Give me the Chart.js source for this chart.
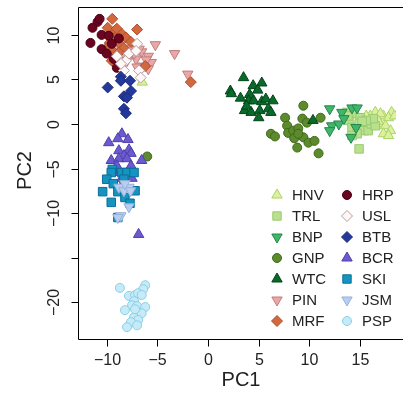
<!DOCTYPE html>
<html>
<head>
<meta charset="utf-8">
<script src="https://cdn.jsdelivr.net/npm/chart.js@4.4.0/dist/chart.umd.min.js"></script>
<style>
  html, body { margin: 0; padding: 0; background: #fff; }
</style>
</head>
<body>
<canvas id="pcaChart" width="403" height="402"></canvas>
<script>
// Axis ticks
const xTicks = [-10, -5, 0, 5, 10, 15];
const yTicks = [-20, -15, -10, -5, 0, 5, 10];
const yTickLabels = ['\u221220', '', '\u221210', '\u22125', '0', '5', '10'];

// Groups (legend order, left column then right column)
const groupNames = ['HNV', 'TRL', 'BNP', 'GNP', 'WTC', 'PIN', 'MRF',
                    'HRP', 'USL', 'BTB', 'BCR', 'SKI', 'JSM', 'PSP'];

// PC scores
const HNV_PC1 = [16.5, 17.3, 18.1, 17.8, 17.0, 17.5, 18.0, 17.3, 17.8, 16.1, 18.4, 17.0, 16.0, 16.8, 15.6, -6.5];
const HNV_PC2 = [1.3, 0.9, 1.3, 0.7, 0.0, -0.2, -0.75, -1.1, -1.3, 0.4, 0.9, 1.15, 0.9, 0.3, 0.9, 4.7];

const TRL_PC1 = [13.7, 14.4, 15.0, 13.9, 14.2, 14.9, 15.4, 15.8, 16.1, 16.5, 14.7, 14.2, 16.3, 15.6, 14.9, 13.8, 15.2];
const TRL_PC2 = [1.3, 1.15, 0.7, 0.4, -0.4, 0.0, -0.75, -0.75, 0.0, -0.2, -1.1, -1.3, 0.6, 0.4, -2.8, 0.9, 0.3];

const BNP_PC1 = [12.0, 13.2, 14.2, 12.2, 12.9, 12.0, 14.6, 14.1, 14.7, 13.4];
const BNP_PC2 = [1.7, 1.3, 1.8, -0.2, 0.0, -0.75, -0.4, -1.5, 1.8, 0.6];

const GNP_PC1 = [9.4, 7.6, 7.8, 6.2, 6.6, 7.9, 8.4, 8.9, 9.3, 9.75, 11.1, 8.5, 9.4, 9.9, 10.5, 8.8, 10.9, 8.9, -6.0];
const GNP_PC2 = [2.05, 0.7, -0.2, -1.1, -1.4, -1.0, -0.75, -0.5, 0.6, 0.15, 0.7, -1.6, -1.5, -2.1, -1.9, -2.65, -3.3, -1.1, -3.65];

const WTC_PC1 = [3.5, 2.2, 2.3, 4.45, 5.3, 4.9, 4.1, 4.0, 4.5, 5.3, 5.7, 6.4, 3.6, 4.25, 5.1, 5.95, 6.2, 5.0, 10.35, 3.2, 3.8];
const WTC_PC2 = [5.2, 3.7, 3.4, 4.3, 4.6, 3.8, 3.3, 2.6, 2.6, 2.5, 2.8, 2.6, 1.5, 1.3, 1.5, 1.7, 1.3, 0.7, 0.4, 2.9, 2.0];

const PIN_PC1 = [-5.2, -3.3, -2.0, -6.55, -5.9, -5.6, -5.9, -7.1, -7.8, -8.3, -8.8, -6.8, -7.3, -6.1, -6.4, -8.0, -7.0];
const PIN_PC2 = [8.9, 7.9, 5.6, 8.1, 7.6, 6.9, 6.2, 7.3, 8.5, 7.9, 8.2, 8.4, 7.9, 7.2, 6.5, 7.1, 6.4];

const MRF_PC1 = [-9.45, -9.9, -9.3, -9.0, -8.5, -9.7, -9.3, -8.8, -8.1, -7.0, -9.5, -1.7, -10.0, -9.45, -8.3, -7.6, -8.8, -6.2];
const MRF_PC2 = [11.8, 10.8, 10.2, 10.7, 10.1, 9.1, 9.6, 9.1, 9.7, 10.6, 7.1, 4.7, 8.5, 8.2, 8.5, 9.2, 8.0, 6.5];

const HRP_PC1 = [-10.9, -11.4, -10.5, -11.6, -10.5, -10.0, -9.8, -9.5, -9.0, -10.7, -8.8, -9.3];
const HRP_PC2 = [11.46, 10.8, 10.0, 9.1, 8.4, 7.9, 9.9, 9.0, 6.3, 11.8, 9.6, 7.3];

const USL_PC1 = [-7.0, -8.1, -8.3, -6.8, -6.65, -9.0, -7.8, -8.6, -7.1];
const USL_PC2 = [9.0, 7.1, 6.0, 6.0, 5.2, 7.6, 7.9, 6.75, 8.2];

const BTB_PC1 = [-8.6, -8.6, -9.9, -7.6, -8.3, -8.0, -8.3, -8.1, -7.7];
const BTB_PC2 = [5.3, 4.85, 4.1, 3.7, 3.1, 2.95, 1.7, 1.2, 4.85];

const BCR_PC1 = [-8.5, -8.9, -7.9, -9.8, -8.8, -7.8, -7.6, -8.3, -9.55, -8.8, -8.0, -6.55, -9.0, -7.6, -9.25, -7.5, -6.85, -8.5];
const BCR_PC2 = [-1.1, -1.65, -1.75, -2.1, -3.0, -2.9, -3.3, -3.55, -4.1, -3.9, -3.9, -4.1, -4.7, -4.7, -5.45, -6.1, -12.4, -6.1];

const SKI_PC1 = [-9.45, -9.55, -8.5, -8.0, -7.3, -10.0, -9.35, -8.3, -10.4, -8.9, -7.2, -8.2, -9.55, -7.7, -8.9];
const SKI_PC2 = [-5.1, -5.45, -5.45, -5.45, -5.45, -6.2, -6.7, -6.2, -7.6, -7.6, -7.5, -8.25, -8.8, -8.9, -10.5];

const JSM_PC1 = [-8.8, -7.8, -8.3, -7.65, -7.8, -8.6, -8.9, -8.2];
const JSM_PC2 = [-7.1, -7.1, -7.5, -7.5, -9.3, -10.3, -10.5, -6.7];

const PSP_PC1 = [-8.7, -6.2, -6.4, -7.8, -7.2, -6.9, -6.55, -7.3, -7.5, -7.0, -6.2, -8.2, -6.55, -7.3, -6.9, -7.6, -8.0, -7.0, -7.2];
const PSP_PC2 = [-18.4, -18.1, -18.55, -19.3, -19.2, -19.0, -19.2, -19.9, -20.35, -20.45, -20.55, -20.9, -21.25, -21.7, -22.0, -22.25, -22.8, -22.6, -20.8];

// Marker styles per group
const groupStyles = {
  HNV: { shape: 'triangle', fill: '#dcf09e', stroke: '#a9d465' },
  TRL: { shape: 'rect', fill: '#b9e08f', stroke: '#9acb6f' },
  BNP: { shape: 'triangleDown', fill: '#3fb66a', stroke: '#23874a' },
  GNP: { shape: 'circle', fill: '#5c8a2c', stroke: '#3f6a19' },
  WTC: { shape: 'triangle', fill: '#0b6a2a', stroke: '#00441b' },
  PIN: { shape: 'triangleDown', fill: '#eba6a6', stroke: '#c07e7e' },
  MRF: { shape: 'diamond', fill: '#d2683d', stroke: '#ad4e2a' },
  HRP: { shape: 'circle', fill: '#6a0421', stroke: '#4a0015' },
  USL: { shape: 'diamond', fill: '#fff8f8', stroke: '#b59c9c' },
  BTB: { shape: 'diamond', fill: '#24399b', stroke: '#1a2a78' },
  BCR: { shape: 'triangle', fill: '#6b5bcf', stroke: '#4d3fae' },
  SKI: { shape: 'rect', fill: '#1594c1', stroke: '#0a6e98' },
  JSM: { shape: 'triangleDown', fill: '#b8cef0', stroke: '#97b1d8' },
  PSP: { shape: 'circle', fill: '#c4ebf7', stroke: '#8ccfe6' },
};

const groupData = {
  HNV: [HNV_PC1, HNV_PC2], TRL: [TRL_PC1, TRL_PC2], BNP: [BNP_PC1, BNP_PC2],
  GNP: [GNP_PC1, GNP_PC2], WTC: [WTC_PC1, WTC_PC2], PIN: [PIN_PC1, PIN_PC2],
  MRF: [MRF_PC1, MRF_PC2], HRP: [HRP_PC1, HRP_PC2], USL: [USL_PC1, USL_PC2],
  BTB: [BTB_PC1, BTB_PC2], BCR: [BCR_PC1, BCR_PC2], SKI: [SKI_PC1, SKI_PC2],
  JSM: [JSM_PC1, JSM_PC2], PSP: [PSP_PC1, PSP_PC2],
};

const FONT = '"Liberation Sans", Arial, Helvetica, sans-serif';

// Chart.js point options for a shape
function pointOptions(shape) {
  switch (shape) {
    case 'triangle': return { pointStyle: 'triangle', radius: 6, rotation: 0 };
    case 'triangleDown': return { pointStyle: 'triangle', radius: 6, rotation: 180 };
    case 'rect': return { pointStyle: 'rect', radius: 6, rotation: 0 };
    case 'diamond': return { pointStyle: 'rectRot', radius: 5.5, rotation: 0 };
    default: return { pointStyle: 'circle', radius: 4.5, rotation: 0 };
  }
}

function buildDatasets() {
  return groupNames.map((name, i) => {
    const [xs, ys] = groupData[name];
    const st = groupStyles[name];
    const p = pointOptions(st.shape);
    return {
      label: name,
      data: xs.map((x, j) => ({ x: x, y: ys[j] })),
      // later groups drawn on top, like base R points()
      order: groupNames.length - i,
      pointStyle: p.pointStyle,
      pointRadius: p.radius,
      pointHoverRadius: p.radius,
      rotation: p.rotation,
      backgroundColor: st.fill,
      borderColor: st.stroke,
      borderWidth: 1,
    };
  });
}

// Legend symbol drawn by hand
function drawSymbol(ctx, shape, x, y, fill, stroke) {
  ctx.beginPath();
  if (shape === 'circle') {
    ctx.arc(x, y, 4.5, 0, Math.PI * 2);
  } else if (shape === 'rect') {
    ctx.rect(x - 4.2, y - 4.2, 8.4, 8.4);
  } else if (shape === 'diamond') {
    ctx.moveTo(x, y - 5.5); ctx.lineTo(x + 5.5, y); ctx.lineTo(x, y + 5.5); ctx.lineTo(x - 5.5, y);
    ctx.closePath();
  } else {
    const s = shape === 'triangle' ? 1 : -1;
    const r = 6;
    ctx.moveTo(x, y - s * r);
    ctx.lineTo(x + r * 0.866, y + s * r * 0.5);
    ctx.lineTo(x - r * 0.866, y + s * r * 0.5);
    ctx.closePath();
  }
  ctx.fillStyle = fill;
  ctx.fill();
  ctx.strokeStyle = stroke;
  ctx.lineWidth = 1;
  ctx.stroke();
}

// R-style axes, box and legend
const rAxesPlugin = {
  id: 'rAxes',
  afterDraw(chart) {
    const { ctx, chartArea: a } = chart;
    const xs = chart.scales.x;
    const ys = chart.scales.y;
    ctx.save();
    ctx.strokeStyle = '#000';
    ctx.lineWidth = 1;

    // box (right side lies off the canvas)
    const L = a.left + 0.5, T = a.top + 0.5, B = a.bottom - 0.5;
    ctx.beginPath();
    ctx.moveTo(a.right + 10, T);
    ctx.lineTo(L, T);
    ctx.lineTo(L, B);
    ctx.lineTo(a.right + 10, B);
    ctx.stroke();

    // x ticks
    ctx.fillStyle = '#222';
    ctx.font = '16px ' + FONT;
    ctx.textAlign = 'center';
    ctx.textBaseline = 'middle';
    xTicks.forEach((v) => {
      const px = Math.round(xs.getPixelForValue(v)) + 0.5;
      ctx.beginPath();
      ctx.moveTo(px, B);
      ctx.lineTo(px, B + 7);
      ctx.stroke();
      const lbl = v < 0 ? '\u2212' + Math.abs(v) : String(v);
      ctx.fillText(lbl, px, a.bottom + 21);
    });

    // y ticks (labels rotated, R style)
    yTicks.forEach((v, i) => {
      const py = Math.round(ys.getPixelForValue(v)) + 0.5;
      ctx.beginPath();
      ctx.moveTo(L, py);
      ctx.lineTo(L - 7, py);
      ctx.stroke();
      if (yTickLabels[i]) {
        ctx.save();
        ctx.translate(a.left - 23, py);
        ctx.rotate(-Math.PI / 2);
        ctx.fillText(yTickLabels[i], 0, 0);
        ctx.restore();
      }
    });

    // axis titles
    ctx.font = '20px ' + FONT;
    ctx.fillText('PC1', (a.left + a.right) / 2 + 4, a.bottom + 40);
    ctx.save();
    ctx.translate(25, (a.top + a.bottom) / 2 - 3);
    ctx.rotate(-Math.PI / 2);
    ctx.fillText('PC2', 0, 0);
    ctx.restore();

    // legend, two columns of seven
    ctx.font = '15px ' + FONT;
    ctx.textAlign = 'left';
    groupNames.forEach((name, i) => {
      const col = Math.floor(i / 7);
      const row = i % 7;
      const sx = 277 + col * 70;
      const sy = 195 + row * 21;
      const st = groupStyles[name];
      drawSymbol(ctx, st.shape, sx, sy, st.fill, st.stroke);
      ctx.fillStyle = '#222';
      ctx.fillText(name, sx + 15, sy + 1);
    });
    ctx.restore();
  },
};

function createChart() {
  const canvas = document.getElementById('pcaChart');
  /* global Chart */
  return new Chart(canvas.getContext('2d'), {
    type: 'scatter',
    data: { datasets: buildDatasets() },
    options: {
      responsive: false,
      animation: false,
      devicePixelRatio: 1,
      layout: { padding: { left: 78, top: 6, right: 0, bottom: 62 } },
      plugins: { legend: { display: false }, tooltip: { enabled: false } },
      scales: {
        x: { type: 'linear', min: -12.83, max: 18.54, display: false },
        y: { type: 'linear', min: -24.25, max: 13.13, display: false },
      },
    },
    plugins: [rAxesPlugin],
  });
}

createChart();
</script>
</body>
</html>
